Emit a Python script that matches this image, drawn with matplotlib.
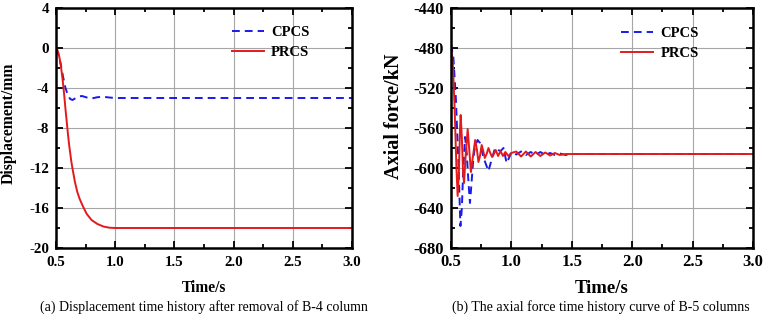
import matplotlib
matplotlib.use("Agg")
import matplotlib.pyplot as plt
from matplotlib.ticker import MultipleLocator

# ---------------- data (a) displacement ----------------
t_a_cpcs = [0.50, 0.52, 0.54, 0.56, 0.58, 0.60, 0.62, 0.64, 0.66, 0.69, 0.72,
            0.76, 0.80, 0.85, 0.90, 0.95, 1.00, 3.00]
d_a_cpcs = [0.0, -0.6, -1.6, -2.9, -4.0, -4.7, -5.1, -5.2, -5.05, -4.85, -4.8,
            -4.95, -5.05, -4.92, -4.88, -4.95, -5.0, -5.0]

t_a_prcs = [0.50, 0.51, 0.52, 0.53, 0.54, 0.55, 0.56, 0.57, 0.58, 0.59, 0.60,
            0.61, 0.62, 0.63, 0.64, 0.66, 0.68, 0.70, 0.73, 0.76, 0.80, 0.85,
            0.90, 0.95, 1.00, 3.00]
d_a_prcs = [0.0, -0.15, -0.5, -1.0, -1.7, -2.6, -3.6, -4.8, -6.1, -7.3, -8.5,
            -9.6, -10.5, -11.4, -12.1, -13.4, -14.4, -15.1, -15.9, -16.6, -17.2,
            -17.6, -17.85, -17.97, -18.0, -18.0]

# ---------------- data (b) axial force ----------------
t_b_cpcs = [0.50, 0.52, 0.54, 0.56, 0.578, 0.59, 0.60, 0.616, 0.63, 0.645,
            0.657, 0.67, 0.685, 0.70, 0.72, 0.74, 0.77, 0.81, 0.84, 0.865,
            0.89, 0.91, 0.935, 0.96, 0.98, 1.00, 1.04, 1.08, 1.12, 1.16, 1.20,
            1.24, 1.28, 1.32, 1.36, 1.40, 1.45, 1.50, 3.00]
f_b_cpcs = [-476, -490, -530, -590, -658, -640, -605, -569, -585, -615,
            -635, -615, -590, -578, -572, -575, -590, -603, -590, -580,
            -582, -583, -580, -595, -590, -584, -586.5, -583.5, -587, -584,
            -587, -584, -587, -585, -587, -585.5, -587, -586, -586]

t_b_prcs = [0.50, 0.515, 0.53, 0.545, 0.555, 0.565, 0.575, 0.58, 0.59, 0.60,
            0.608, 0.62, 0.638, 0.65, 0.665, 0.68, 0.70, 0.715, 0.727, 0.74,
            0.754, 0.767, 0.78, 0.795, 0.81, 0.825, 0.84, 0.855, 0.87, 0.89,
            0.91, 0.93, 0.95, 0.975, 1.00, 1.04, 1.08, 1.12, 1.16, 1.20, 1.24,
            1.28, 1.32, 1.36, 1.40, 1.45, 3.00]
f_b_prcs = [-480, -495, -540, -600, -628, -605, -560, -547, -570, -605,
            -615, -590, -561, -580, -604, -590, -572, -582, -594, -588,
            -577, -583, -590, -586, -580, -585, -589, -586, -582, -588,
            -583, -588, -584, -588, -585, -583.5, -588.5, -583.5, -588.5, -584,
            -588, -584.5, -587.5, -585, -587, -586, -586]

x_ticks = [0.5, 1.0, 1.5, 2.0, 2.5, 3.0]
ya_ticks = [4, 0, -4, -8, -12, -16, -20]
yb_ticks = [-440, -480, -520, -560, -600, -640, -680]

labels = ["CPCS", "PRCS"]
captions = ["(a) Displacement time history after removal of B-4 column",
            "(b) The axial force time history curve of B-5 columns"]

plt.rcParams['font.family'] = ['Liberation Serif', 'DejaVu Serif']

fig = plt.figure(figsize=(7.65, 3.25), dpi=100)
ax1 = fig.add_axes([56/765, 1-248/325, 296/765, 240/325])
ax2 = fig.add_axes([451/765, 1-248/325, 302/765, 240/325])

blue = '#1a1aeb'
red = '#e31a1c'

def style(ax, yticks, ylabel, tsize, xlsize, ylsize, xpad, ypad,
          ylab_x, ylab_y, leg_anchor):
    ax.set_xlim(0.5, 3.0)
    ax.set_ylim(min(yticks), max(yticks))
    ax.set_xticks(x_ticks)
    ax.set_xticklabels([f"{v:.1f}" for v in x_ticks])
    ax.set_yticks(yticks)
    ax.set_yticklabels([f"{v:d}" for v in yticks])
    ax.xaxis.set_minor_locator(MultipleLocator(0.25))
    step = abs(yticks[1]-yticks[0]) / 2
    ax.yaxis.set_minor_locator(MultipleLocator(step))
    ax.grid(True, which='major', color='#a6a6a6', linewidth=0.8)
    ax.set_axisbelow(True)
    ax.tick_params(which='both', direction='in', top=True, right=True,
                   labelsize=tsize, width=1.3)
    ax.tick_params(axis='x', which='both', pad=xpad)
    ax.tick_params(axis='y', which='both', pad=ypad)
    ax.tick_params(which='major', length=5)
    ax.tick_params(which='minor', length=3)
    for lbl in ax.get_xticklabels() + ax.get_yticklabels():
        lbl.set_fontweight('bold')
    for s in ax.spines.values():
        s.set_linewidth(1.8)
    ax.set_xlabel("Time/s", fontsize=xlsize, fontweight='bold')
    ax.xaxis.set_label_coords(0.5, -32/240)
    ax.set_ylabel(ylabel, fontsize=ylsize, fontweight='bold')
    ax.yaxis.set_label_coords(ylab_x, ylab_y)
    ax.legend(loc='upper right', frameon=False,
              prop={'weight': 'bold', 'size': 10.5},
              handlelength=2.2, handletextpad=0.5, labelspacing=0.45,
              bbox_to_anchor=leg_anchor)

ax1.plot(t_a_cpcs, d_a_cpcs, color=blue, lw=1.4, ls=(0, (4, 2.6)), label=labels[0])
ax1.plot(t_a_prcs, d_a_prcs, color=red, lw=1.4, label=labels[1])
style(ax1, ya_ticks, "Displacement/mm", 10.8, 11.2, 11.3, 6, 5,
      (17-56)/296, 0.52, (0.90, 0.98))

ax2.plot(t_b_cpcs, f_b_cpcs, color=blue, lw=1.4, ls=(0, (4, 2.6)), label=labels[0])
ax2.plot(t_b_prcs, f_b_prcs, color=red, lw=1.4, label=labels[1])
style(ax2, yb_ticks, "Axial force/kN", 12, 13.5, 14.5, 4, 5,
      (404-451)/302, 0.55, (0.865, 0.975))

fig.text(204/765, 1-307/325, captions[0], ha='center', va='center', fontsize=10)
fig.text(601/765, 1-307/325, captions[1], ha='center', va='center', fontsize=10)

fig.savefig("out.png", dpi=100)
